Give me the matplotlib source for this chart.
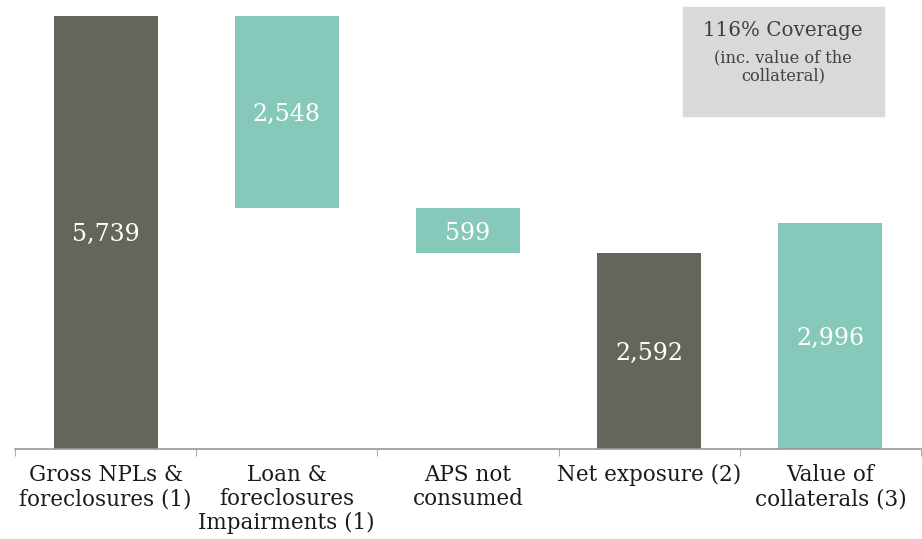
import numpy as np
import matplotlib.pyplot as plt
from matplotlib.patches import Rectangle

# datos de la cascada
categorias = ['Gross NPLs &\nforeclosures (1)', 'Loan &\nforeclosures\nImpairments (1)',
              'APS not\nconsumed', 'Net exposure (2)', 'Value of\ncollaterals (3)']
valores = [5739, 2548, 599, 2592, 2996]
bases = [0, 5739 - 2548, 5739 - 2548 - 599, 0, 0]
etiquetas = ['5,739', '2,548', '599', '2,592', '2,996']
colores = ['#64655b', '#86c8ba', '#86c8ba', '#64655b', '#86c8ba']

plt.rcParams['font.family'] = ['DejaVu Serif']

fig = plt.figure(figsize=(9.22, 5.39), dpi=100)
ax = fig.add_axes([15 / 922, 90 / 539, 906 / 922, 433 / 539])

x = np.arange(len(categorias))
ax.bar(x, valores, bottom=bases, width=0.574, color=colores)

for xi, v, b, t in zip(x, valores, bases, etiquetas):
    ax.text(xi, b + v / 2 - 30, t, ha='center', va='center', color='white', fontsize=17)

ax.set_xlim(-0.5, 4.5)
ax.set_ylim(0, 5739)
ax.set_yticks([])
ax.set_xticks(x)
ax.set_xticklabels(categorias, fontsize=15.5, color='#1a1a1a', linespacing=1.12)
ax.set_xticks(np.arange(-0.5, 5, 1), minor=True)
ax.tick_params(axis='x', which='major', length=0, pad=11)
ax.tick_params(axis='x', which='minor', length=5, color='#999999', direction='out')
for s in ['top', 'right', 'left']:
    ax.spines[s].set_visible(False)
ax.spines['bottom'].set_color('#999999')
ax.spines['bottom'].set_linewidth(1.2)

# caja de cobertura
fig.patches.append(Rectangle((683 / 922, 1 - 116 / 539), 201 / 922, 109 / 539,
                             transform=fig.transFigure, color='#d9d9d9', zorder=0))
fig.text(783 / 922, 1 - 30 / 539, '116% Coverage', ha='center', va='center',
         fontsize=14.3, color='#404040')
fig.text(783 / 922, 1 - 67 / 539, '(inc. value of the\ncollateral)', ha='center', va='center',
         fontsize=11.7, color='#404040', linespacing=1.1)

fig.savefig('out.png', dpi=100)
